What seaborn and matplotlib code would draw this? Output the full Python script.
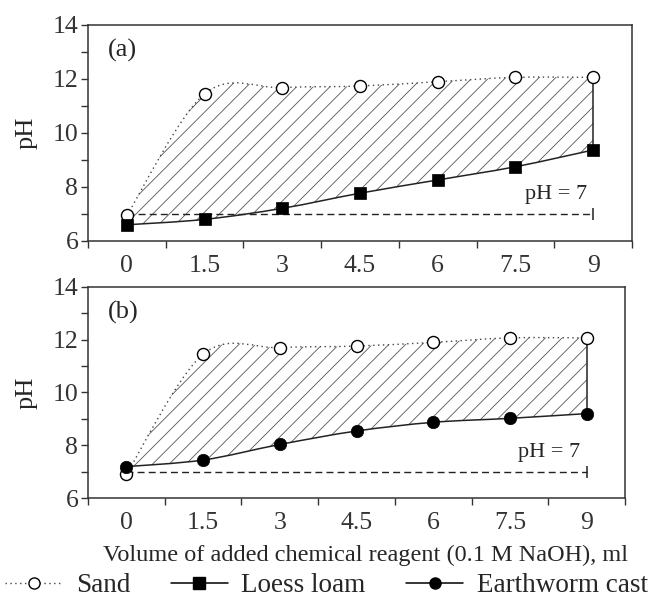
import numpy as np
import matplotlib
matplotlib.use('Agg')
import matplotlib.pyplot as plt
import seaborn as sns
from matplotlib.path import Path
from matplotlib.patches import PathPatch
from matplotlib.lines import Line2D

# data
volume = [0, 1.5, 3, 4.5, 6, 7.5, 9]
x_tick_labels = ['0', '1.5', '3', '4.5', '6', '7.5', '9']
sand_a = [6.95, 11.45, 11.68, 11.74, 11.9, 12.06, 12.06]
loess_loam = [6.6, 6.8, 7.21, 7.77, 8.26, 8.75, 9.37]
sand_b = [6.9, 11.45, 11.7, 11.76, 11.9, 12.07, 12.07]
earthworm_cast = [7.19, 7.44, 8.03, 8.54, 8.87, 9.02, 9.2]
neutral_ph = 7

sns.set_theme(style='ticks')
plt.rcParams['font.family'] = ['Liberation Serif', 'DejaVu Serif']
plt.rcParams['hatch.linewidth'] = 0.6
plt.rcParams['axes.edgecolor'] = '#333333'
plt.rcParams['xtick.color'] = '#333333'
plt.rcParams['ytick.color'] = '#333333'

TICK_FS = 18.5


def smooth_verts(x, y):
    # excel-like smoothed line, as a chain of cubic bezier pieces
    pts = np.column_stack([x, y]).astype(float)
    n = len(pts)
    verts = [pts[0]]
    for i in range(n - 1):
        p0 = pts[i - 1] if i > 0 else pts[i]
        p3 = pts[i + 2] if i + 2 < n else pts[i + 1]
        verts += [pts[i] + (pts[i + 1] - p0) / 6,
                  pts[i + 1] - (p3 - pts[i]) / 6,
                  pts[i + 1]]
    return verts


def curve(verts):
    codes = [Path.MOVETO] + [Path.CURVE4] * (len(verts) - 1)
    return Path(verts, codes)


def draw_panel(ax, upper, lower, lower_marker, tag):
    up = smooth_verts(volume, upper)
    lo = smooth_verts(volume, lower)

    # hatched band between the two curves
    band = up + lo[::-1] + [up[0]]
    codes = ([Path.MOVETO] + [Path.CURVE4] * (len(up) - 1) + [Path.LINETO]
             + [Path.CURVE4] * (len(lo) - 1) + [Path.CLOSEPOLY])
    ax.add_patch(PathPatch(Path(band, codes), facecolor='none', edgecolor='#555555',
                           lw=0, hatch='//', zorder=1))

    ax.add_patch(PathPatch(curve(up), fill=False, edgecolor='#444444', lw=1,
                           ls=(0, (1, 2.5)), zorder=2))
    ax.add_patch(PathPatch(curve(lo), fill=False, edgecolor='#222222', lw=1.1, zorder=2))
    ax.plot([volume[-1], volume[-1]], [upper[-1], lower[-1]], color='#222222', lw=1.1, zorder=2)

    # pH = 7 reference
    ax.plot([volume[0], volume[-1]], [neutral_ph, neutral_ph], color='#222222', lw=1,
            ls=(0, (5, 3)), zorder=2)
    ax.plot([volume[-1]], [neutral_ph], marker='|', ms=9, mew=1.1, color='#222222', zorder=2)
    ax.text(volume[-1] - 0.12, neutral_ph + 0.72, 'pH = 7', ha='right', va='center', fontsize=16)

    sns.scatterplot(x=volume, y=upper, ax=ax, marker='o', s=75, color='white',
                    edgecolor='black', linewidth=1, zorder=5)
    sns.scatterplot(x=volume, y=lower, ax=ax, marker=lower_marker, s=80, color='black',
                    edgecolor='black', linewidth=0.5, zorder=5)

    ax.text(0.037, 0.88, tag, transform=ax.transAxes, fontsize=19, va='center')

    ax.set_xlim(-0.75, 9.75)
    ax.set_ylim(6, 14)
    ax.set_xticks(np.arange(-0.75, 10, 1.5))
    ax.set_xticklabels([])
    ax.set_xticks(volume, minor=True)
    ax.set_xticklabels(x_tick_labels, minor=True)
    ax.tick_params(axis='x', which='major', direction='out', length=5, width=1)
    ax.tick_params(axis='x', which='minor', length=0, pad=10, labelsize=TICK_FS)
    ax.set_yticks([6, 8, 10, 12, 14])
    ax.set_yticks([7, 9, 11, 13], minor=True)
    ax.tick_params(axis='y', which='both', direction='out', length=5, width=1,
                   labelsize=TICK_FS, pad=2)
    ax.set_ylabel('pH', fontsize=19, labelpad=11)
    for s in ax.spines.values():
        s.set_linewidth(1.1)


fig = plt.figure(figsize=(6.53, 5.99), dpi=100)
ax_a = fig.add_axes([0.1348, 0.5977, 0.8331, 0.3606])
ax_b = fig.add_axes([0.1348, 0.1686, 0.8224, 0.3523])

draw_panel(ax_a, sand_a, loess_loam, 's', '(a)')
draw_panel(ax_b, sand_b, earthworm_cast, 'o', '(b)')
ax_b.set_xlabel('Volume of added chemical reagent (0.1 M NaOH), ml', fontsize=17.5, labelpad=8)
ax_b.xaxis.label.set_x(0.516)

handles = [
    Line2D([], [], color='#444444', ls=(0, (1, 2.5)), lw=1, marker='o', ms=8,
           mfc='white', mec='black'),
    Line2D([], [], color='black', lw=1.1, marker='s', ms=8, mfc='black', mec='black'),
    Line2D([], [], color='black', lw=1.1, marker='o', ms=8, mfc='black', mec='black'),
]
fig.legend(handles, ['Sand', 'Loess loam', 'Earthworm cast'], loc='center',
           bbox_to_anchor=(0.5, 0.022), ncol=3, frameon=False, fontsize=19.5,
           handlelength=2.1, columnspacing=1.5, handletextpad=0.5)

fig.savefig('out.png', dpi=100)
